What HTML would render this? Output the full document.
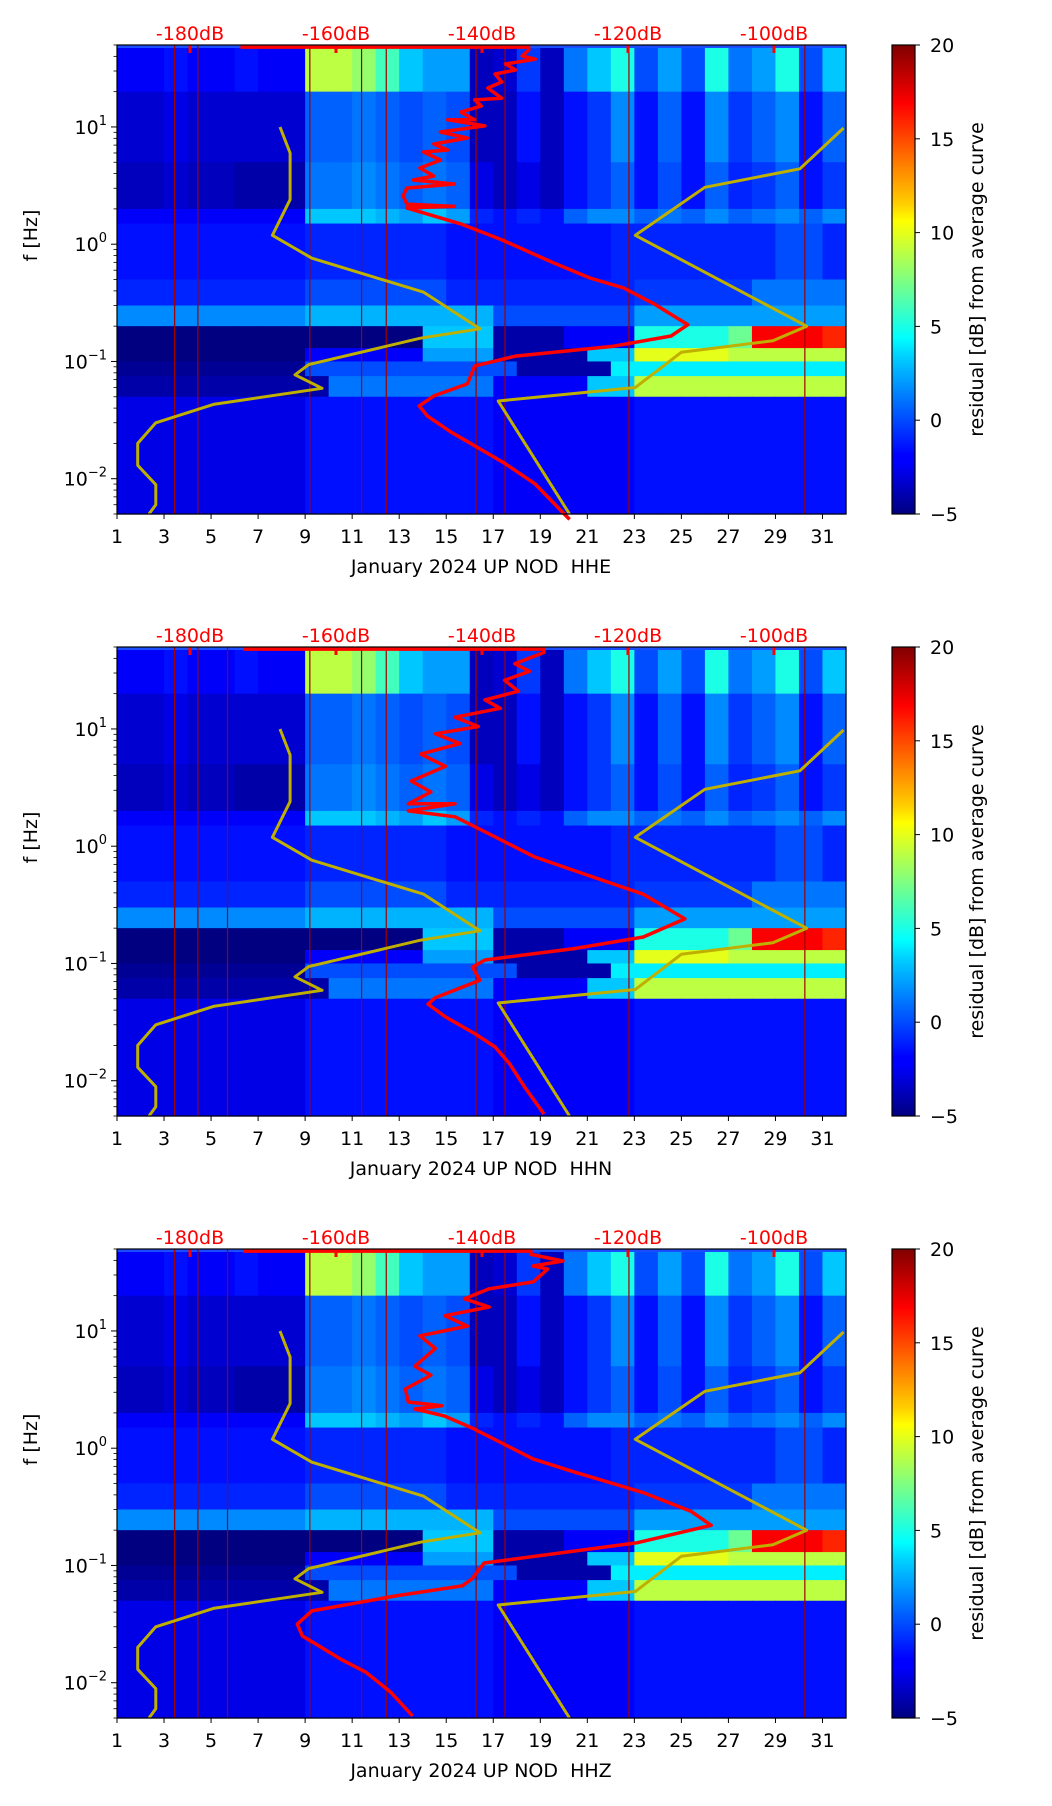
<!DOCTYPE html>
<html><head><meta charset="utf-8"><style>
html,body{margin:0;padding:0;background:#fff;}
svg{display:block;font-family:"DejaVu Sans","Liberation Sans",sans-serif;}
</style></head><body>
<svg id="fig" width="1052" height="1806" viewBox="0 0 1052 1806" xmlns="http://www.w3.org/2000/svg">
<defs>
<linearGradient id="jet" x1="0" y1="1" x2="0" y2="0">
<stop offset="0" stop-color="#000080"/><stop offset="0.11" stop-color="#0000ff"/>
<stop offset="0.125" stop-color="#0000ff"/><stop offset="0.34" stop-color="#00d4ff"/>
<stop offset="0.375" stop-color="#00ffff"/><stop offset="0.5" stop-color="#80ff80"/>
<stop offset="0.625" stop-color="#ffff00"/><stop offset="0.66" stop-color="#ffd000"/>
<stop offset="0.875" stop-color="#ff0000"/><stop offset="1" stop-color="#800000"/>
</linearGradient>
</defs>
</svg>
<script>
// ---- data ----
const channels = ["HHE","HHN","HHZ"];
const dayTicks = [1,3,5,7,9,11,13,15,17,19,21,23,25,27,29,31];
const dbTicks = [-180,-160,-140,-120,-100];
const cbTicks = [20,15,10,5,0,-5];
const bandEdges = [50,20,5,2,1.5,0.5,0.3,0.2,0.13,0.1,0.075,0.05,0.005];
const r0 = [-2,-2,-1.5,-2,-2,-1.5,-2,-2,9,9,8,6,3,2,2,-3.5,-3,-0.5,-3.5,1,3,5,0,2,0,5,1,2,5,0,3];
const r1 = [-3,-3,-2.5,-3,-3,-3,-3,-3,0.5,0.5,1,0.5,0,0.5,0,-3.5,-3.5,-1.5,-3.5,-1.5,-0.5,1.5,-1.5,0.5,-1.5,1.5,-0.5,0.5,1.5,-1.5,0.5];
const r2 = [-3.5,-3.5,-3,-3.5,-3.5,-4,-4,-4,1,1,1.5,1,0.5,1,0.5,-2.5,-3.5,-2.5,-3.5,-1.5,-0.5,0.5,-1.5,0,-1.5,0.5,-1,-0.5,0.5,-1.5,-0.5];
const r3 = [-2,-2,-2,-2,-2,-2,-2,-2,3,3,3,2.5,2,3,2,-1,-1.5,-1,-1.5,0.5,1.5,1.5,0.5,1,0.5,1.5,0.5,1,1.5,0.5,1.5];
const r4 = [-1.5,-1.5,-1.5,-1.5,-1.5,-1.5,-1.5,-1.5,-1,-1,-1,-1,-1,-1,-1.5,-1.5,-1.5,-1.5,-1.5,-1.5,-1.5,-1,-1,-1,-1,-1,-1,-1,0,0,-1];
const r5 = [-1,-1,-1,-1,-1,-1,-1,-1,0,0,0,0,0,0,-1,-1,-1,-1,-1,-1,-1,-1,-0.5,-0.5,-0.5,-0.5,-0.5,1,1,1,1];
const r6 = [1.5,1.5,1.5,1.5,1.5,1.5,1.5,1.5,2.5,2.5,2.5,2.5,2.5,2.5,2.5,2.5,0,0,0,0,0,0,2,2,2,2,2,2,2,2,2];
const r7 = [-5,-5,-5,-5,-5,-5,-5,-5,-5,-5,-5,-5,-5,3,3,3,-4,-4,-4,-2,-2,-2,5,5,5,5,7,17,17,17,16];
const r8 = [-5,-5,-5,-5,-5,-5,-5,-5,-2,-2,-2,-2,-2,2,2,2,-4,-4,-4,-4,3,3,10,10,10,10,9,9,9,9,9];
const r9 = [-4.5,-4.5,-4.5,-4.5,-4.5,-4.5,-4.5,-4.5,0,0,0,0,0,0,0,0,0,-4,-4,-4,-4,4,4,4,4,4,4,4,4,4,4];
const r10 = [-4,-4,-4,-4,-4,-4,-4,-4,-4,1,1,1,1,1,1,1,-2,-2,-2,-2,3,3,9,9,9,9,9,9,9,9,9];
const r11 = [-2.5,-2.5,-2.5,-2.5,-2.5,-2.5,-2.5,-2.5,-1.5,-1.5,-1.5,-1.5,-1.5,-1.5,-1.5,-1.5,-2,-2,-2,-2,-2,-2,-1.5,-1.5,-1.5,-1.5,-1.5,-1.5,-1.5,-1.5,-1.5];
const gridRows = [r0,r1,r2,r3,r4,r5,r6,r7,r8,r9,r10,r11];
const gapDays1 = [3.45,4.44,9.2,11.4,12.45,16.27,17.5,22.77,30.25];
const gapDays23 = [3.45,4.44,5.7,9.2,11.4,12.45,16.27,17.5,22.77,30.25];
// low/high noise model curves (day coordinates, Hz)
const lowDay = [7.93,8.36,8.36,7.61,9.29,14.04,16.43,13.9,9.15,8.57,9.72,5.1,2.65,1.88,1.88,2.65,2.65,2.36];
const lowF = [10,6.0,2.4,1.19,0.76,0.39,0.19,0.158,0.094,0.077,0.059,0.043,0.030,0.020,0.013,0.0089,0.006,0.005];
const highDay = [31.9,30.04,26.0,23.04,30.33,28.89,25.0,23.04,17.21,20.24];
const highF = [9.8,4.4,3.06,1.19,0.2,0.15,0.12,0.060,0.046,0.005];
// mean PSD curves (dB, Hz) per channel
const hheDb = [-173.1,-133.6,-133.6,-134.5,-132.7,-136.8,-135.4,-138.2,-137.3,-139.2,-137.3,-141.0,-140.1,-142.9,-141.0,-144.7,-139.6,-145.7,-142.0,-146.6,-144.7,-148.0,-145.7,-148.5,-146.6,-149.4,-143.8,-150.3,-150.8,-150.3,-143.8,-150.3,-142.9,-137.3,-129.9,-125.2,-120.6,-116.4,-111.8,-114.1,-122.0,-135.4,-141.0,-142.0,-146.6,-148.6,-147.5,-144.3,-140.5,-136.8,-132.7,-129.0,-128.0];
const hheF = [48,48,45.3,40.3,37.8,34.4,30.6,28.3,24.2,21.5,17.6,17.0,15.1,13.4,11.5,11.5,10.2,9.06,8.05,7.16,6.36,6.11,5.22,4.47,3.82,3.53,3.26,3.01,2.58,2.2,2.1,2.04,1.49,1.09,0.68,0.515,0.424,0.309,0.206,0.165,0.135,0.111,0.0916,0.0643,0.0508,0.0418,0.0343,0.0251,0.0183,0.0134,0.009,0.0052,0.0045];
const hhnDb = [-172.7,-131.5,-131.5,-135.5,-133.5,-136.9,-135.0,-139.6,-137.5,-143.7,-140.5,-146.4,-143.0,-148.4,-145.0,-149.7,-147.0,-150.1,-143.7,-150.1,-143.7,-140.9,-132.8,-127.4,-117.9,-112.2,-117.9,-127.4,-139.6,-141.3,-140.3,-146.4,-147.4,-145.0,-140.9,-138.2,-136.2,-134.2,-131.5];
const hhnF = [48,48,45,36,31,26,21,17.7,15,12.6,10.5,9.1,7.5,6.1,4.8,3.6,2.9,2.3,2.3,2.0,1.78,1.46,0.81,0.62,0.39,0.24,0.168,0.134,0.107,0.093,0.072,0.051,0.045,0.035,0.025,0.0194,0.0139,0.0089,0.0052];
const hhzDb = [-172.7,-133.3,-133.3,-128.9,-133.0,-131.0,-133.0,-139.0,-142.4,-139.0,-145.1,-142.0,-148.5,-146.4,-149.2,-147.0,-150.5,-150.1,-145.5,-149.2,-145.1,-141.1,-133.0,-127.5,-118.0,-111.4,-108.6,-118.8,-139.7,-141.4,-142.7,-151.8,-163.3,-165.3,-164.6,-162.0,-159.3,-155.9,-152.5,-149.5];
const hhzF = [48,48,45,39.5,35.8,33.7,26.2,22.9,18.8,16,13.5,11,9.1,7.1,5.0,4.2,3.2,2.48,2.3,2.16,1.88,1.46,0.81,0.63,0.42,0.29,0.22,0.156,0.105,0.0766,0.067,0.055,0.041,0.0316,0.025,0.02,0.0158,0.0123,0.0083,0.0052];
const redDb = [hheDb,hhnDb,hhzDb];
const redF = [hheF,hhnF,hhzF];
const panelTops = [45,647,1249];

// ---- layout / scales ----
const NS="http://www.w3.org/2000/svg";
const svg=document.getElementById('fig');
const L=117,R=846,H=469;
const xDay=d=>L+(d-1)*(R-L)/31;
const xDb=db=>190+(db+180)*7.3;
const yF=(top,f)=>top+(Math.log10(50)-Math.log10(f))*H/(Math.log10(50)-Math.log10(0.005));
function jet(v){let t=(v+5)/25;t=Math.max(0,Math.min(1,t));
 const c=x=>Math.round(255*Math.max(0,Math.min(1,x)));
 return `rgb(${c(1.5-Math.abs(4*t-3))},${c(1.5-Math.abs(4*t-2))},${c(1.5-Math.abs(4*t-1))})`;}
function mk(tag,attrs,parent){const e=document.createElementNS(NS,tag);for(const k in attrs)e.setAttribute(k,attrs[k]);(parent||svg).appendChild(e);return e;}

panelTops.forEach((top,p)=>{
 const g=mk('g',{});
 
 
 const bot=top+H;
 gridRows.forEach((row,ri)=>{
  const y1=yF(top,bandEdges[ri]),y2=yF(top,bandEdges[ri+1]);
  row.forEach((v,di)=>{
   const r=mk('rect',{x:xDay(di+1),y:y1,width:xDay(di+2)-xDay(di+1)+0.6,height:y2-y1+0.6,fill:jet(v)},g);
   
   
  });
 });
 const ts=mk('rect',{x:L,y:top,width:R-L,height:3,fill:'#1a4dff'},g);
 
 
 (p===0?gapDays1:gapDays23).forEach(d=>{
  const ln=mk('line',{x1:xDay(d),x2:xDay(d),y1:top,y2:bot,stroke:'#a00000','stroke-width':1.2},g);
  
  
 });
 dbTicks.forEach(db=>{
  const t=mk('rect',{x:xDb(db)-1.5,y:top,width:3,height:8,fill:'#ff0000'},g);
  
  
  const tx=mk('text',{x:xDb(db),y:top-5,'text-anchor':'middle','font-size':19,fill:'#ff0000'},g);
  tx.textContent=db+'dB';
  
  
 });
 const pl=(xs,ys)=>xs.map((d,i)=>xDay(d).toFixed(1)+','+yF(top,ys[i]).toFixed(1)).join(' ');
 const lo=mk('polyline',{points:pl(lowDay,lowF),fill:'none',stroke:'#bfb000','stroke-width':3,'stroke-linejoin':'round'},g);
 
 
 const hi=mk('polyline',{points:pl(highDay,highF),fill:'none',stroke:'#bfb000','stroke-width':3,'stroke-linejoin':'round'},g);
 
 
 const rd=mk('polyline',{points:redDb[p].map((db,i)=>xDb(db).toFixed(1)+','+yF(top,redF[p][i]).toFixed(1)).join(' '),fill:'none',stroke:'#ff0000','stroke-width':3.5,'stroke-linejoin':'round'},g);
 
 
 const fr=mk('rect',{x:L,y:top,width:R-L,height:H,fill:'none',stroke:'#000','stroke-width':1.2},g);
 
 
 dayTicks.forEach(d=>{
  mk('line',{x1:xDay(d),x2:xDay(d),y1:bot,y2:bot+5,stroke:'#000','stroke-width':1},g);
  const t=mk('text',{x:xDay(d),y:bot+29,'text-anchor':'middle','font-size':19,fill:'#000'},g);
  t.textContent=d;
  
  
 });
 [1,0,-1,-2].forEach(e=>{
  const y=yF(top,Math.pow(10,e));
  mk('line',{x1:L-6,x2:L,y1:y,y2:y,stroke:'#000','stroke-width':1},g);
  const t=mk('text',{x:L-10,y:y+7,'text-anchor':'end','font-size':19,fill:'#000'},g);
  
  
  t.innerHTML='10<tspan font-size="13" dy="-9">'+(e<0?'\u2212'+(-e):e)+'</tspan>';
 });
 for(let e=-3;e<=1;e++)for(let m=2;m<=9;m++){const f=m*Math.pow(10,e);if(f<0.005||f>50)continue;const y=yF(top,f);
  mk('line',{x1:L-3.5,x2:L,y1:y,y2:y,stroke:'#000','stroke-width':0.8},g);}
 const yl=mk('text',{x:0,y:0,transform:`translate(37,${top+H/2-44}) rotate(-90)`,'text-anchor':'middle','font-size':19,fill:'#000'},g);
 yl.textContent='f [Hz]';
 
 
 const xl=mk('text',{x:481,y:bot+59,'text-anchor':'middle','font-size':19,fill:'#000','xml:space':'preserve'},g);
 xl.textContent='January 2024 UP NOD\u00a0 '+channels[p];
 
 
 const cb=mk('rect',{x:892,y:top,width:23,height:H,fill:'url(#jet)',stroke:'#000','stroke-width':1.2},g);
 
 
 cbTicks.forEach(v=>{const y=top+(20-v)/25*H;
  mk('line',{x1:915,x2:920,y1:y,y2:y,stroke:'#000','stroke-width':1},g);
  const t=mk('text',{x:930,y:y+7,'font-size':19,fill:'#000'},g);
  t.textContent=v<0?'\u2212'+(-v):v;
  
  
 });
 const cl=mk('text',{x:0,y:0,transform:`translate(983,${top+H/2}) rotate(-90)`,'text-anchor':'middle','font-size':19,fill:'#000'},g);
 cl.textContent='residual [dB] from average curve';
 
 
});
</script>
</body></html>
